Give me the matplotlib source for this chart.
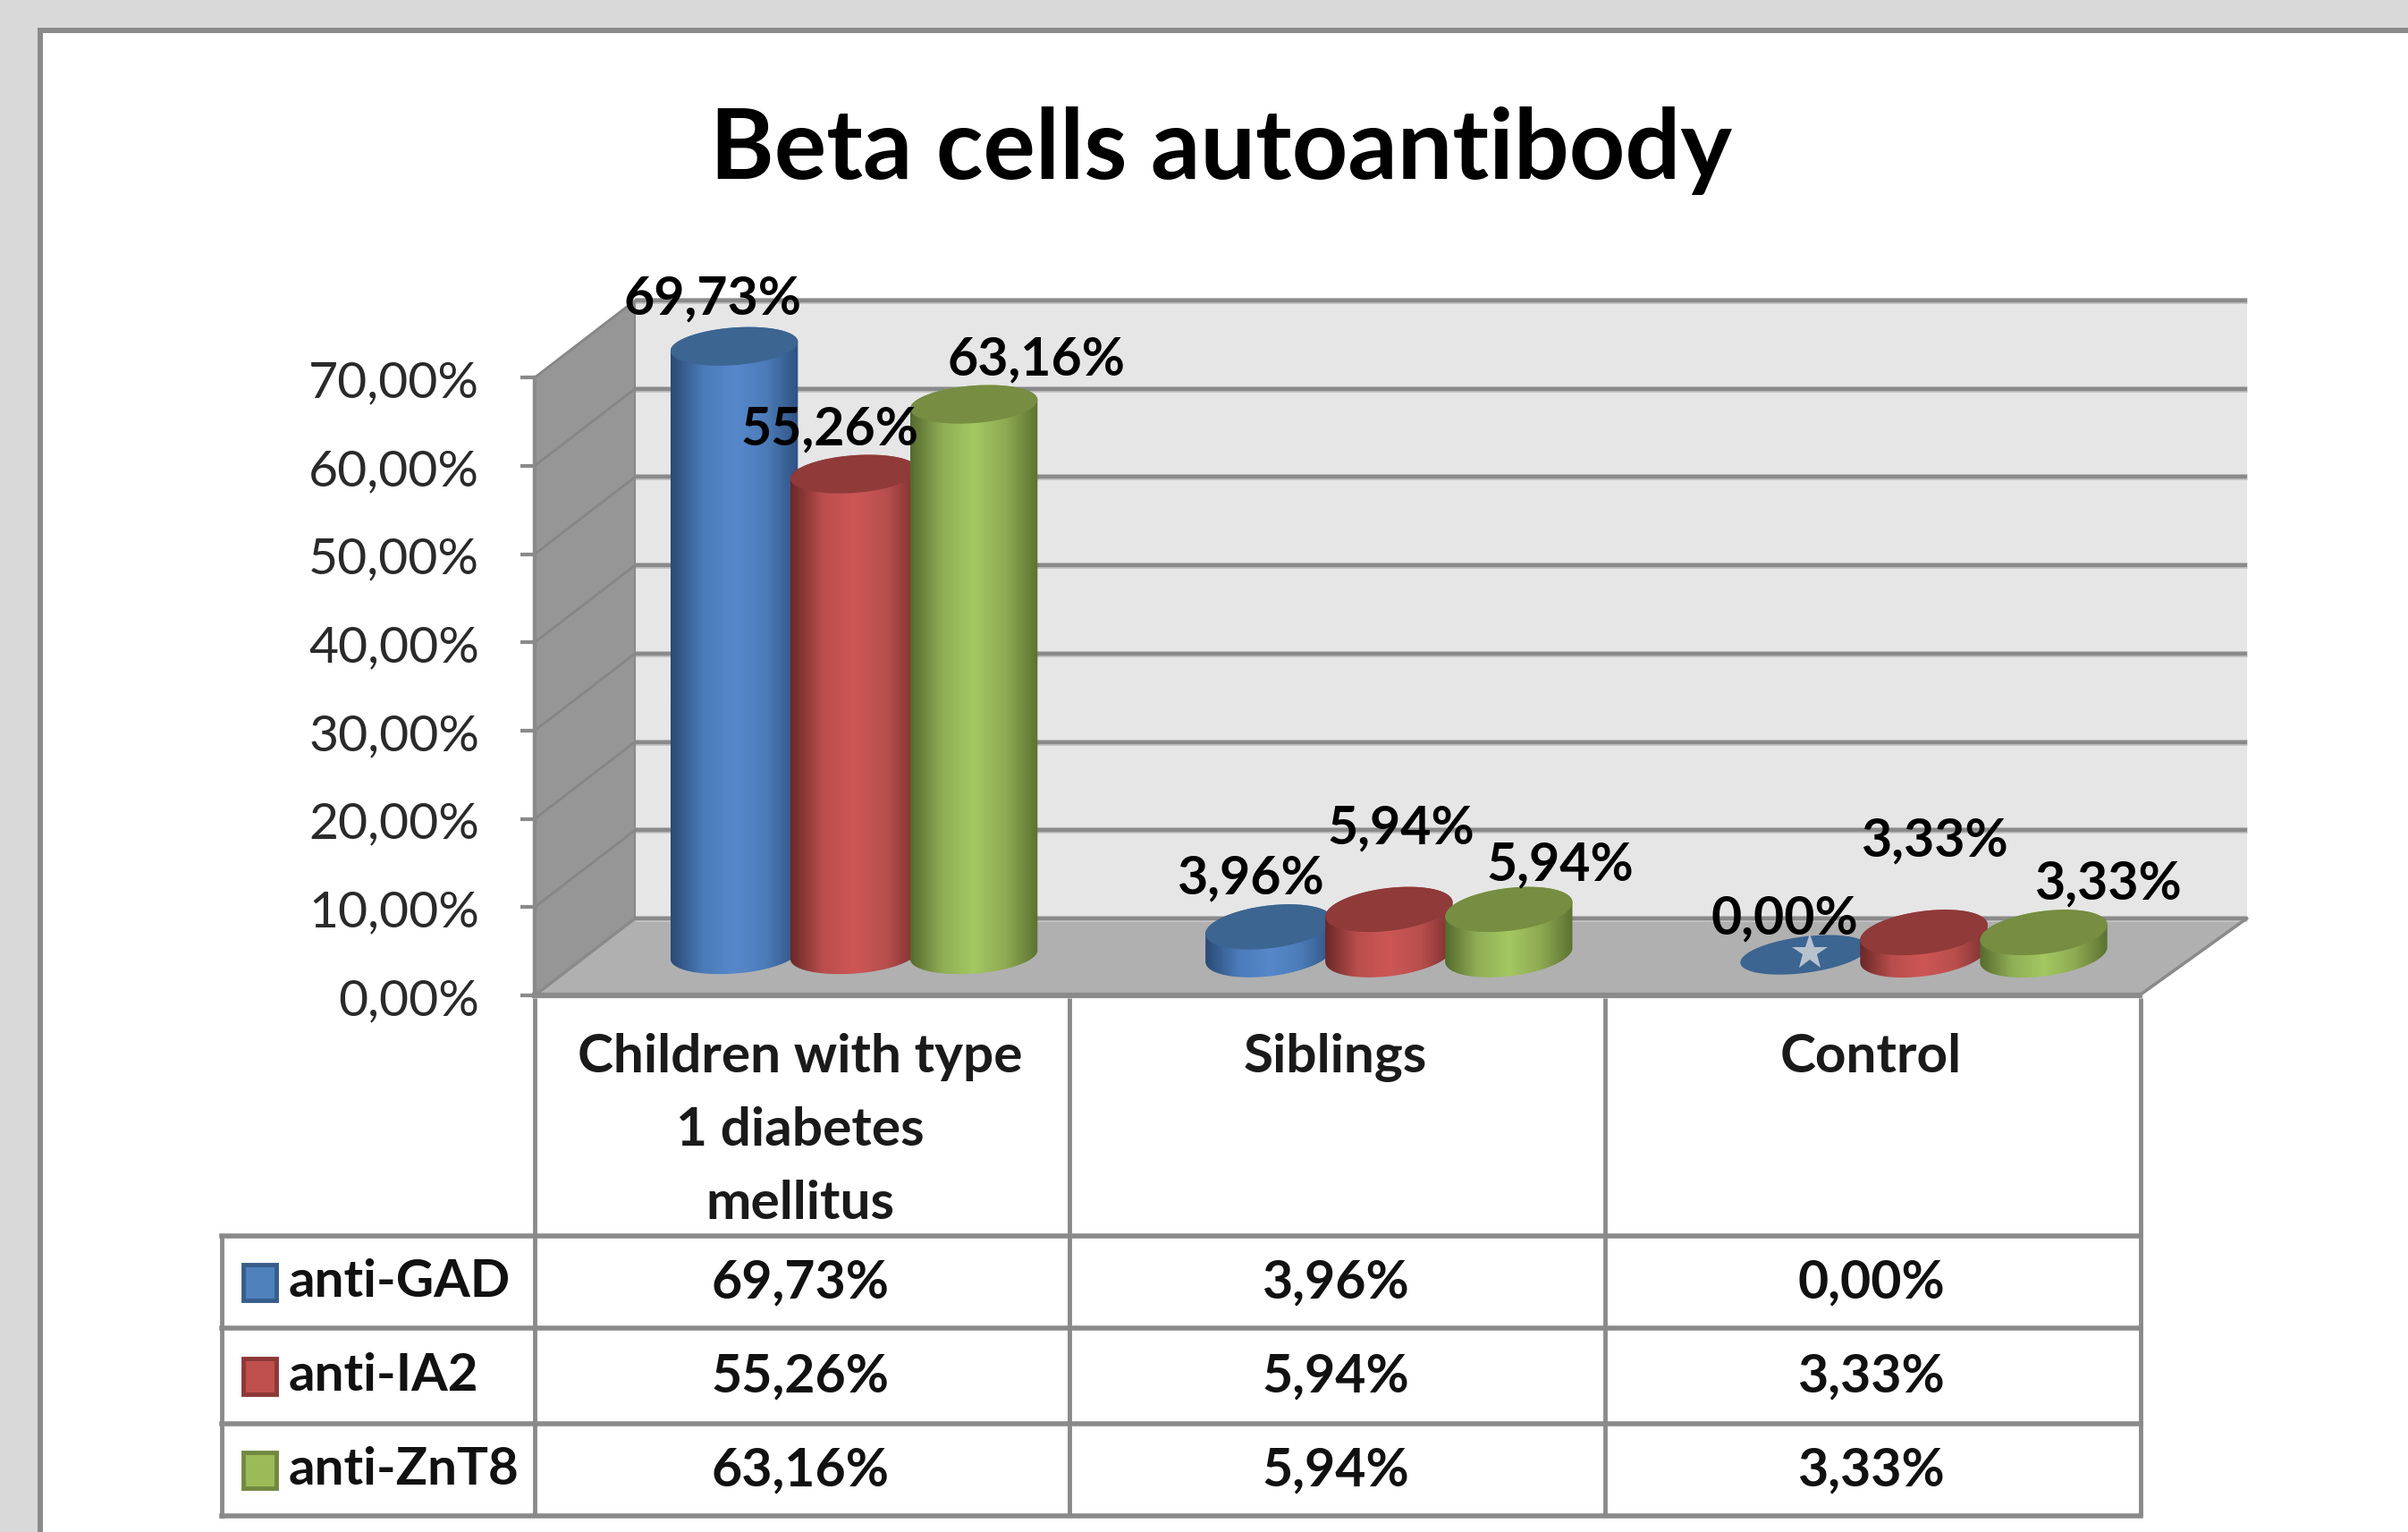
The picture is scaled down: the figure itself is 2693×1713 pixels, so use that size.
import numpy as np
import matplotlib
matplotlib.use('Agg')
from matplotlib import pyplot as plt
from matplotlib.colors import LinearSegmentedColormap
from matplotlib.patches import Polygon, Rectangle
from matplotlib.transforms import ScaledTranslation

# Data
title = 'Beta cells autoantibody'
categories = ['Children with type\n1 diabetes\nmellitus', 'Siblings', 'Control']
series_names = ['anti-GAD', 'anti-IA2', 'anti-ZnT8']
anti_gad = [69.73, 3.96, 0.00]
anti_ia2 = [55.26, 5.94, 3.33]
anti_znt8 = [63.16, 5.94, 3.33]
y_ticks = [0, 10, 20, 30, 40, 50, 60, 70]

# Styles
W, H = 2693, 1713
LINE = '#8a8a8a'
side_colors = [['#2b4a75', '#4a7ab8', '#5788cb', '#4c7cb8', '#2f5282'],
               ['#6a2828', '#b94e4c', '#cd5755', '#b84f4d', '#7c3030'],
               ['#566b2e', '#90ae55', '#a4c862', '#8eaa52', '#5c7232']]
top_colors = ['#3c6591', '#903a3a', '#768d42']
key_edge = ['#385d8a', '#8c3836', '#71893f']
key_fill = ['#4f81bd', '#c0504d', '#9bbb59']
# label offsets from the bar top, in pixels of the picture
label_dx = [[-24, -27, 70], [-21, 13, 57], [-22, 12, 72]]
label_dy = [[53, 50, 50], [54, 90, 49], [48, 102, 54]]
tilts = [0.07, 0.11, 0.12]
half_heights = [21, 24, 24]

plt.rcParams['font.family'] = ['Lato', 'DejaVu Sans']
fig = plt.figure(figsize=(W / 100.0, H / 100.0), dpi=100, facecolor='#d9d9d9')

# overlay in pixel coordinates: frame and table
back = fig.add_axes([0, 0, 1, 1], zorder=0)
back.set_xlim(0, W)
back.set_ylim(H, 0)
back.axis('off')
back.add_patch(Rectangle((45, 34), W + 50, H + 50, facecolor='white', edgecolor=LINE, lw=4.3))
back.text(1366, 169, title, ha='center', va='center', fontsize=78.7, fontweight='bold', color='black')

# main axes, x in categories and y in percent
UX, UY = 598.2, 9.87
X0, Y0 = 598, 1113
x_max, y_max = 3.3, 90
ax = fig.add_axes([X0 / float(W), 1 - Y0 / float(H), x_max * UX / W, y_max * UY / H], zorder=1)
ax.patch.set_alpha(0)
ax.set_xlim(0, x_max)
ax.set_ylim(0, y_max)
for s in ['top', 'right', 'bottom']:
    ax.spines[s].set_visible(False)
ax.spines['left'].set_bounds(0, 70)
ax.spines['left'].set_color(LINE)
ax.spines['left'].set_linewidth(3.2)
ax.set_xticks([])
ax.set_yticks(y_ticks)
ax.set_yticklabels([('%.2f%%' % t).replace('.', ',') for t in y_ticks])
ax.tick_params(axis='y', length=11.5, width=3, color=LINE, labelsize=41, labelcolor='#2a2a2a', pad=33)
for lbl in ax.get_yticklabels():
    lbl.set_transform(lbl.get_transform() + ScaledTranslation(0, -1.2 / 72.0, fig.dpi_scale_trans))

# 3d box of the chart
dl, dr, dy = 112 / UX, 120 / UX, 86 / UY
ax.add_patch(Polygon([(dl, dy), (3 + dr, dy), (3 + dr, 70 + dy), (dl, 70 + dy)], facecolor='#e6e6e6', edgecolor='none', zorder=1))
ax.add_patch(Polygon([(0, 0), (dl, dy), (dl, 70 + dy), (0, 70)], facecolor='#969696', edgecolor='none', zorder=1))
ax.add_patch(Polygon([(0, 0), (3, 0), (3 + dr, dy), (dl, dy)], facecolor='#b0b0b0', edgecolor='none', zorder=1))
for t in y_ticks:
    ax.plot([dl, 3 + dr], [t + dy, t + dy], color='#c4c4c4', lw=5, zorder=2, solid_capstyle='butt')
    ax.plot([dl, 3 + dr], [t + dy, t + dy], color=LINE, lw=3.2, zorder=2, solid_capstyle='butt')
    if t > 0:
        ax.plot([0, dl], [t, t + dy], color='#868686', lw=2, zorder=2)
ax.plot([dl, dl], [dy, 70 + dy], color=LINE, lw=1.5, zorder=2)
ax.plot([3, 3 + dr], [0, dy], color=LINE, lw=2.5, zorder=2)
ax.plot([0, dl], [0, dy], color=LINE, lw=2.5, zorder=2)
ax.plot([0, 3], [0, 0], color=LINE, lw=4.5, zorder=2, clip_on=False)

# cylinders
bar_w = 0.238
bar_step = 0.224
shift_x = 0.597
top_shift = 3.8
base_shift = 4.6
t_all = np.linspace(0, 2 * np.pi, 120)
t_low = np.linspace(np.pi, 2 * np.pi, 60)
t_up = np.linspace(0, np.pi, 60)


def ell(cx, cy, t, tilt, b):
    a = bar_w / 2
    xs = cx + a * np.cos(t)
    ys = cy + (tilt * a * UX * np.cos(t) + b * np.sin(t)) / UY
    return np.column_stack([xs, ys])


def cylinder(cx, v, j, cat):
    tilt, b = tilts[cat], half_heights[cat]
    z = 5 + j
    if v == 0:
        ax.add_patch(Polygon(ell(cx, base_shift, t_all, tilt, b * 0.85), facecolor=top_colors[j], edgecolor='none', zorder=z))
        ax.plot([cx + 0.01], [base_shift + 0.3], marker='*', ms=30, color='#b8c2ce', mew=0, zorder=z)
        return
    outline = np.vstack([ell(cx, base_shift, t_low, tilt, b), ell(cx, top_shift + v, t_up, tilt, b)])
    clip = Polygon(outline, transform=ax.transData, facecolor='none', edgecolor='none')
    ax.add_patch(clip)
    cmap = LinearSegmentedColormap.from_list('c', side_colors[j])
    im = ax.imshow(np.linspace(0, 1, 128).reshape(1, -1), cmap=cmap, aspect='auto', zorder=z,
                   extent=[cx - bar_w / 2, cx + bar_w / 2, 0, top_shift + v + 5])
    im.set_clip_path(clip)
    ax.add_patch(Polygon(ell(cx, top_shift + v, t_all, tilt, b), facecolor=top_colors[j], edgecolor='none', zorder=z))


all_series = [anti_gad, anti_ia2, anti_znt8]
for i in range(0, len(categories)):
    for j in range(0, len(all_series)):
        v = all_series[j][i]
        cx = i + shift_x + (j - 1) * bar_step
        cylinder(cx, v, j, i)
        ax.annotate(('%.2f%%' % v).replace('.', ','), xy=(cx, v + top_shift),
                    xytext=(label_dx[i][j], label_dy[i][j]), textcoords='offset pixels',
                    ha='center', va='center', fontsize=42.5, fontweight='bold', color='black', zorder=10,
                    annotation_clip=False)
ax.set_xlim(0, x_max)
ax.set_ylim(0, y_max)

# table below the chart
col_x = [598, 1196, 1795, 2394]
row_y = [1382, 1485, 1592, 1695]
box_x = 248
for x in col_x:
    back.plot([x, x], [1116, row_y[-1]], color=LINE, lw=3.5, solid_capstyle='butt')
for y in row_y:
    back.plot([box_x, col_x[-1]], [y, y], color=LINE, lw=4, solid_capstyle='projecting')
back.plot([box_x, box_x], [row_y[0], row_y[-1]], color=LINE, lw=3.5)
for i in range(0, len(categories)):
    tx = (col_x[i] + col_x[i + 1]) / 2.0
    lines = categories[i].split('\n')
    for k in range(0, len(lines)):
        back.text(tx - 2, 1182 + k * 82, lines[k], ha='center', va='center', fontsize=43.5, fontweight='bold', color='#1a1a1a')
    for j in range(0, len(all_series)):
        yc = (row_y[j] + row_y[j + 1]) / 2.0
        back.text(tx - 2, yc + 1, ('%.2f%%' % all_series[j][i]).replace('.', ','), ha='center', va='center',
                  fontsize=42.5, fontweight='bold', color='#111111')
for j in range(0, len(series_names)):
    yc = (row_y[j] + row_y[j + 1]) / 2.0
    back.add_patch(Rectangle((272, yc - 20), 37, 40, facecolor=key_fill[j], edgecolor=key_edge[j], lw=3.5))
    back.text(323, yc, series_names[j], ha='left', va='center', fontsize=42, fontweight='bold', color='#111111')

fig.savefig('out.png', dpi=100, facecolor=fig.get_facecolor())
